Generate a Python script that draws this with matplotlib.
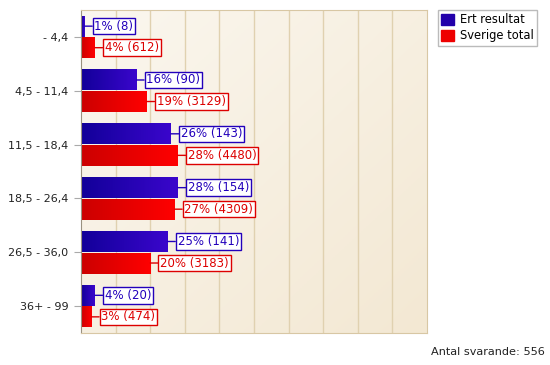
import numpy as np
import matplotlib
matplotlib.use("Agg")
import matplotlib.pyplot as plt
from matplotlib.colors import LinearSegmentedColormap
from matplotlib.patches import Patch

categories = ["- 4,4", "4,5 - 11,4", "11,5 - 18,4", "18,5 - 26,4", "26,5 - 36,0", "36+ - 99"]
ert_pct = [1, 16, 26, 28, 25, 4]
ert_n = [8, 90, 143, 154, 141, 20]
sve_pct = [4, 19, 28, 27, 20, 3]
sve_n = [612, 3129, 4480, 4309, 3183, 474]
series_names = ["Ert resultat", "Sverige total"]
total_label = "Antal svarande: 556"

plt.rcParams['font.family'] = ['DejaVu Sans']
fig = plt.figure(figsize=(5.5, 3.65), dpi=100)
ax = fig.add_axes([81/550, 1-333/365, (427-81)/550, (333-10)/365])

y = np.arange(len(categories))
h = 0.39
off = 0.2

ax.set_xlim(0, 100)
ax.set_ylim(len(categories)-0.5, -0.5)

# background gradient
gx, gy = np.meshgrid(np.linspace(0, 1, 200), np.linspace(0, 1, 200))
g = (gx + gy) / 2
bg_cmap = LinearSegmentedColormap.from_list("bg", ["#fbf7ef", "#f3e8d3"])
ax.imshow(g, extent=[0, 100, len(categories)-0.5, -0.5], aspect='auto', cmap=bg_cmap, zorder=0)

for xv in np.arange(10, 100, 10):
    ax.axvline(xv, color="#e0d1b0", lw=1, zorder=1)

blue_cmap = LinearSegmentedColormap.from_list("b", ["#120099", "#3a06cc"])
red_cmap = LinearSegmentedColormap.from_list("r", ["#cc0000", "#ff0000"])
grad = np.linspace(0, 1, 100).reshape(1, -1)

def draw(vals, ns, ypos, cmap, ec, tc):
    bars = ax.barh(ypos, vals, height=h, color="none", zorder=2)
    for b, v, n in zip(bars, vals, ns):
        x0, y0 = b.get_x(), b.get_y()
        w, hh = b.get_width(), b.get_height()
        ax.imshow(grad, extent=[x0, x0 + w, y0 + hh, y0], aspect='auto', cmap=cmap, zorder=2)
        ax.annotate(f"{v}% ({n})", xy=(x0 + w, y0 + hh/2), xytext=(10, 0), textcoords='offset pixels',
                    va='center', ha='left', fontsize=8.5, color=tc, zorder=4,
                    bbox=dict(boxstyle='square,pad=0.15', fc='white', ec=ec, lw=1),
                    arrowprops=dict(arrowstyle='-', color=ec, lw=1, shrinkA=0, shrinkB=0))

draw(ert_pct, ert_n, y - off, blue_cmap, "#2200bb", "#2200bb")
draw(sve_pct, sve_n, y + off, red_cmap, "#dd0000", "#dd0000")

ax.set_xlim(0, 100)
ax.set_ylim(len(categories)-0.5, -0.5)
ax.set_yticks(y)
ax.set_yticklabels(categories, fontsize=8, color="#222222")
ax.set_xticks([])
ax.tick_params(axis='y', length=5, color="#aaaaaa", pad=4)
for s in ["top", "right", "bottom"]:
    ax.spines[s].set_color("#d8c7a4")
ax.spines["left"].set_color("#9a9180")

handles = [Patch(facecolor="#2200aa", edgecolor="#2200aa"), Patch(facecolor="#ee0000", edgecolor="#ee0000")]
leg = fig.legend(handles, series_names, loc='upper left', bbox_to_anchor=(438/550, 1-10/365),
                 fontsize=8.3, frameon=True, fancybox=False, handlelength=1.1, handleheight=1.1,
                 handletextpad=0.5, borderpad=0.3, labelspacing=0.25, borderaxespad=0)
leg.get_frame().set_edgecolor("#aaaaaa")
leg.get_frame().set_linewidth(1)

fig.text(545/550, 1-352/365, total_label, ha='right', va='center', fontsize=8.1, color="#222222")

fig.savefig("out.png", dpi=100)
